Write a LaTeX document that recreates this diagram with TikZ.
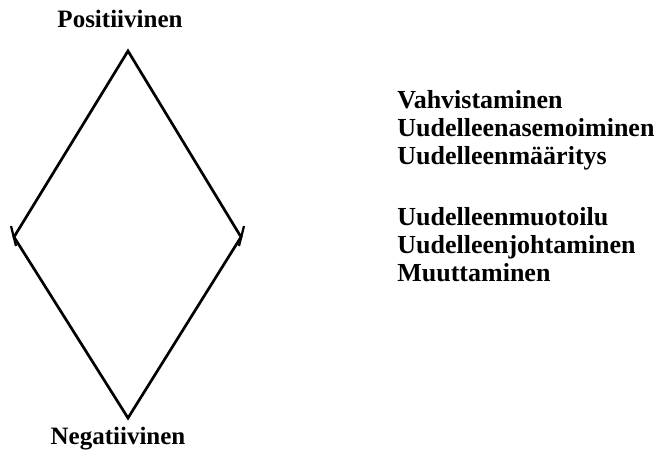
\documentclass[tikz,border=0pt]{standalone}
\usepackage{fontspec}
\setmainfont{Liberation Serif}
\begin{document}
\begin{tikzpicture}[x=1pt,y=-1pt,line width=2.7pt,
	lbl/.style={font=\fontsize{25}{28}\selectfont\bfseries,inner sep=0pt},
	tick/.style={line width=2.2pt}]
		\useasboundingbox (0,0) rectangle (662,450);
		\coordinate (top) at (128,51);
		\coordinate (right) at (241,237);
		\coordinate (bottom) at (128,418);
		\coordinate (left) at (14,237);
		\draw[line join=miter] (top)--(right)--(bottom)--(left)--cycle;
		\draw[tick] (left) ++(-3,-11) -- ++(5,20);
		\draw[tick] (right) ++(3,-11) -- ++(-5,20);
		\node[lbl,anchor=base] (pos) at (120,27) {Positiivinen};
		\node[lbl,anchor=base] (neg) at (118,444) {Negatiivinen};
		\node[lbl,font=\fontsize{26}{28}\selectfont\bfseries,anchor=north west,align=left] (first) at (396,89)
			{Vahvistaminen\\Uudelleenasemoiminen\\Uudelleenmääritys};
		\node[lbl,font=\fontsize{26}{28}\selectfont\bfseries,anchor=north west,align=left] (second) at (396,206)
			{Uudelleenmuotoilu\\Uudelleenjohtaminen\\Muuttaminen};
\end{tikzpicture}
\end{document}
